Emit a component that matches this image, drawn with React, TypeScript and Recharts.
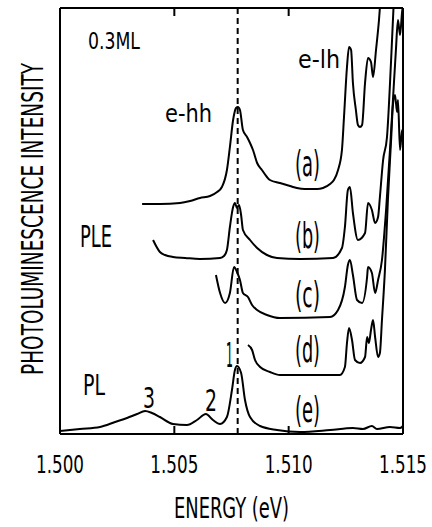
import React from 'react';
import { LineChart, Line, XAxis, YAxis, ReferenceLine } from 'recharts';

// energy (eV) / intensity (arb. units)
const X_TICKS = [1.5, 1.505, 1.51, 1.515];
const HH_ENERGY = 1.50777;

const CURVE_A_E = [1.50359, 1.50437, 1.50525, 1.50569, 1.50612, 1.50656, 1.50687, 1.50708, 1.5073, 1.50743, 1.50757, 1.5077, 1.50778, 1.50787, 1.508, 1.50818, 1.50831, 1.50844, 1.50862, 1.50883, 1.50905, 1.50918, 1.50962, 1.51006, 1.51036, 1.51071, 1.51124, 1.5115, 1.51181, 1.51198, 1.51216, 1.51233, 1.51242, 1.51255, 1.51264, 1.51273, 1.51281, 1.51294, 1.51303, 1.51312, 1.51321, 1.51334, 1.51347, 1.5136, 1.51369, 1.51382, 1.51395, 1.51408];
const CURVE_A_I = [230, 230, 231, 233, 236, 238, 242, 247, 264, 287, 314, 326, 327, 324, 304, 297, 291, 284, 271, 264, 257, 254, 251, 248, 246, 245, 245, 246, 250, 254, 264, 284, 317, 367, 387, 384, 351, 324, 309, 307, 309, 351, 376, 372, 357, 384, 414, 454];

const CURVE_B_E = [1.50407, 1.50437, 1.50459, 1.50494, 1.50547, 1.50612, 1.507, 1.50717, 1.5073, 1.50743, 1.50757, 1.50765, 1.50774, 1.50783, 1.50792, 1.508, 1.50831, 1.50862, 1.50905, 1.50949, 1.5105, 1.51194, 1.51233, 1.51246, 1.51259, 1.51268, 1.51281, 1.51303, 1.51334, 1.51347, 1.51364, 1.51378, 1.51391, 1.51399, 1.51413, 1.5143, 1.51448, 1.51461];
const CURVE_B_I = [194, 182, 179, 177, 176, 175, 176, 178, 184, 207, 227, 231, 226, 229, 219, 204, 194, 186, 179, 176, 175, 176, 186, 207, 244, 247, 221, 194, 201, 231, 224, 211, 217, 237, 274, 297, 374, 439];

const CURVE_C_E = [1.50682, 1.507, 1.50722, 1.50743, 1.50761, 1.50774, 1.50787, 1.508, 1.50822, 1.5084, 1.50862, 1.50905, 1.50962, 1.51181, 1.51216, 1.51246, 1.51259, 1.51268, 1.51281, 1.51299, 1.51321, 1.51343, 1.51347, 1.51364, 1.51378, 1.51391, 1.51408, 1.51426, 1.51443, 1.51456, 1.51469, 1.51478, 1.51487, 1.51496, 1.515];
const CURVE_C_I = [159, 141, 131, 141, 167, 162, 154, 141, 137, 129, 124, 119, 116, 117, 124, 147, 169, 174, 159, 134, 131, 157, 167, 161, 141, 154, 174, 224, 284, 334, 384, 414, 399, 422, 429];

const CURVE_D_E = [1.50822, 1.5084, 1.50853, 1.50875, 1.50918, 1.50962, 1.51224, 1.51246, 1.51255, 1.51264, 1.51277, 1.5129, 1.51312, 1.51334, 1.51343, 1.51351, 1.5136, 1.51369, 1.51378, 1.51391, 1.51399, 1.51408, 1.51421, 1.51434, 1.51448, 1.51456, 1.51465, 1.51474, 1.51478, 1.51487, 1.51496, 1.515];
const CURVE_D_I = [89, 84, 74, 67, 62, 59, 59, 67, 91, 106, 94, 74, 71, 77, 97, 91, 104, 114, 97, 77, 81, 114, 164, 234, 294, 329, 339, 322, 334, 284, 304, 294];

const CURVE_E_E = [1.5, 1.50087, 1.50175, 1.50241, 1.50293, 1.50337, 1.50372, 1.50402, 1.50437, 1.50494, 1.50555, 1.50599, 1.50638, 1.50669, 1.507, 1.5073, 1.50752, 1.50765, 1.50774, 1.50792, 1.50809, 1.50831, 1.50875, 1.50949, 1.5105, 1.51181, 1.51281, 1.51325, 1.51364, 1.51386, 1.51443, 1.51487, 1.515];
const CURVE_E_I = [3, 5, 7, 12, 16, 20, 23, 21, 17, 10, 9, 14, 20, 14, 10, 17, 44, 64, 68, 61, 34, 17, 8, 4, 2, 4, 6, 5, 8, 5, 7, 6, 8];

const zip = (es: number[], is: number[]) => es.map((e, k) => ({ e, i: is[k] }));
const CURVES = [
  zip(CURVE_A_E, CURVE_A_I),
  zip(CURVE_B_E, CURVE_B_I),
  zip(CURVE_C_E, CURVE_C_I),
  zip(CURVE_D_E, CURVE_D_I),
  zip(CURVE_E_E, CURVE_E_I),
];

const FONT = "'Liberation Sans Narrow', 'DejaVu Sans Condensed', 'Liberation Sans', sans-serif";

// condensed text squeezed to a given width
const Txt = ({ x, y, size, len, anchor = 'start', rotate, children }: any) => (
  <text
    x={x}
    y={y}
    fontSize={size}
    fontFamily={FONT}
    fill="#000"
    textAnchor={anchor}
    textLength={len}
    lengthAdjust="spacingAndGlyphs"
    transform={rotate ? `rotate(${rotate}, ${x}, ${y})` : undefined}
  >
    {children}
  </text>
);

const BottomTick = ({ x, y, payload }: any) => (
  <Txt x={x} y={y + 47} size={25} len={48} anchor="middle">
    {Number(payload.value).toFixed(3)}
  </Txt>
);

const NoTick = () => <g />;

export default function App() {
  return (
    <div style={{ width: 432, height: 527, background: '#fff' }}>
      <style>{`body{margin:0}`}</style>
      <LineChart width={432} height={527} margin={{ top: 0, right: 0, bottom: 33, left: 0 }}>
        <XAxis
          xAxisId="bottom"
          dataKey="e"
          type="number"
          domain={[1.5, 1.515]}
          ticks={X_TICKS}
          allowDataOverflow
          height={60}
          tickSize={-8}
          tickMargin={0}
          tick={<BottomTick />}
          axisLine={{ stroke: '#000', strokeWidth: 2 }}
          tickLine={{ stroke: '#000', strokeWidth: 2 }}
          label={{
            content: (p: any) => (
              <Txt x={p.viewBox.x + p.viewBox.width / 2} y={p.viewBox.y + 84} size={28} len={115} anchor="middle">
                ENERGY (eV)
              </Txt>
            ),
          }}
        />
        <XAxis
          xAxisId="top"
          orientation="top"
          dataKey="e"
          type="number"
          domain={[1.5, 1.515]}
          ticks={X_TICKS}
          allowDataOverflow
          height={8}
          tickSize={-8}
          tick={<NoTick />}
          axisLine={{ stroke: '#000', strokeWidth: 2 }}
          tickLine={{ stroke: '#000', strokeWidth: 2 }}
        />
        <YAxis
          yAxisId="left"
          type="number"
          domain={[0, 426]}
          allowDataOverflow
          width={60}
          tick={false}
          tickLine={false}
          axisLine={{ stroke: '#000', strokeWidth: 2 }}
          label={{
            content: (p: any) => (
              <Txt x={43} y={p.viewBox.y + p.viewBox.height / 2 - 2} size={30} len={312} anchor="middle" rotate={-90}>
                PHOTOLUMINESCENCE INTENSITY
              </Txt>
            ),
          }}
        />
        <YAxis
          yAxisId="right"
          orientation="right"
          type="number"
          domain={[0, 426]}
          width={29}
          tick={false}
          tickLine={false}
          axisLine={{ stroke: '#000', strokeWidth: 2 }}
        />
        <ReferenceLine
          x={HH_ENERGY}
          xAxisId="bottom"
          yAxisId="left"
          stroke="#000"
          strokeWidth={2}
          strokeDasharray="6 4"
        />
        {CURVES.map((d, k) => (
          <Line
            key={k}
            data={d}
            dataKey="i"
            xAxisId="bottom"
            yAxisId="left"
            type="monotone"
            stroke="#000"
            strokeWidth={2}
            strokeLinejoin="round"
            dot={false}
            activeDot={false}
            isAnimationActive={false}
          />
        ))}

        {/* annotations */}
        <Txt x={88} y={49} size={23} len={52}>0.3ML</Txt>
        <Txt x={165} y={122} size={24} len={47}>e-hh</Txt>
        <Txt x={298} y={68} size={24} len={42}>e-lh</Txt>
        <Txt x={295} y={176} size={36} len={25}>(a)</Txt>
        <Txt x={295} y={248} size={36} len={25}>(b)</Txt>
        <Txt x={295} y={307} size={36} len={25}>(c)</Txt>
        <Txt x={295} y={362} size={36} len={25}>(d)</Txt>
        <Txt x={295} y={422} size={36} len={25}>(e)</Txt>
        <Txt x={80} y={247} size={31} len={32}>PLE</Txt>
        <Txt x={83} y={395} size={28} len={22}>PL</Txt>
        <Txt x={143} y={408} size={29} len={12}>3</Txt>
        <Txt x={205} y={411} size={31} len={12}>2</Txt>
        <Txt x={226} y={367} size={33} len={7}>1</Txt>
      </LineChart>
    </div>
  );
}
